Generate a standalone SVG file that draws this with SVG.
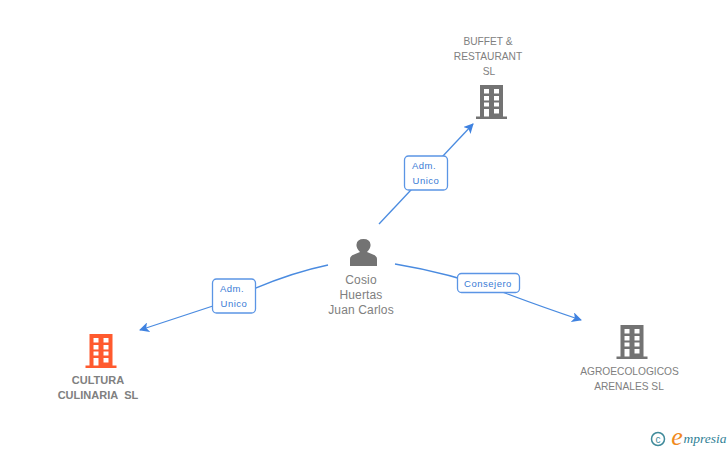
<svg xmlns="http://www.w3.org/2000/svg" width="728" height="450" viewBox="0 0 728 450">
<style>
text{font-family:"Liberation Sans",Arial,sans-serif;text-anchor:middle}
.n{font-size:10.2px;fill:#808080}
.b{font-size:11px;font-weight:bold;fill:#808080}
.p{font-size:12px;fill:#808080;letter-spacing:.15px}
.l{font-size:9.500px;fill:#3a7bd5;letter-spacing:.5px}
.c{fill:none;stroke:#4a8be0;stroke-width:1.3}
.box{fill:#fff;stroke:#5b95e5;stroke-width:1.3}
.gray{fill:#737373}
.org{fill:#ff5a2e}
</style>
<defs>
<path id="bld" fill-rule="evenodd" d="M4 0H27V31.500H31V34H0V31.500H4ZM8 4V8.500H13V4ZM18 4V8.500H23V4ZM8 11V15.500H13V11ZM18 11V15.500H23V11ZM8 17.500V21.500H13V17.500ZM18 17.500V21.500H23V17.500ZM8 24V31.500H13V24ZM18 24V28.500H23V24Z"/>
<marker id="arr" viewBox="0 0 10 10" refX="9" refY="5" markerWidth="10" markerHeight="10" markerUnits="userSpaceOnUse" orient="auto"><path d="M0 0L10 5L0 10L2.500 5Z" fill="#3f82e0"/></marker>
</defs>
<g id="connectors">
<path class="c" marker-end="url(#arr)" d="M379 224L473 124"/>
<path class="c" marker-end="url(#arr)" d="M328 265Q280 275 225 302L140 330"/>
<path class="c" marker-end="url(#arr)" d="M395 264Q450 273 505 293Q545 308 581 320"/>
</g>
<g id="label-adm-1"><rect class="box" x="404.500" y="156" width="43" height="34" rx="4"/><text class="l" x="424" y="169">Adm.</text><text class="l" x="426" y="184">Unico</text></g>
<g id="label-adm-2"><rect class="box" x="212.500" y="279" width="43" height="34" rx="4"/><text class="l" x="232" y="292">Adm.</text><text class="l" x="234" y="307">Unico</text></g>
<g id="label-consejero"><rect class="box" x="457.500" y="273.500" width="62" height="19" rx="4"/><text class="l" x="488" y="287">Consejero</text></g>
<g id="node-buffet"><use href="#bld" class="gray" x="476" y="85"/><text class="n" x="488" y="45">BUFFET &amp;</text><text class="n" x="488" y="60">RESTAURANT</text><text class="n" x="489" y="75">SL</text></g>
<g id="node-cosio"><path class="gray" d="M350 266V259Q350 256 354 254.500L360 252Q356 248 356.500 244.500Q357 239 363.500 239Q370 239 370.500 244.500Q371 248 367 252L373 254.500Q377 256 377 259V266Z"/><text class="p" x="361" y="284">Cosio</text><text class="p" x="361" y="299">Huertas</text><text class="p" x="361" y="314">Juan Carlos</text></g>
<g id="node-cultura"><use href="#bld" class="org" x="85.500" y="334"/><text class="b" x="98" y="384">CULTURA</text><text class="b" x="98" y="399">CULINARIA&#160; SL</text></g>
<g id="node-agro"><use href="#bld" class="gray" x="616.500" y="325"/><text class="n" x="629.500" y="375">AGROECOLOGICOS</text><text class="n" x="629" y="390">ARENALES SL</text></g>
<g id="watermark"><circle cx="658" cy="439" r="6.500" fill="none" stroke="#3f8a9a" stroke-width="1.500"/><text x="658" y="442.500" style="font-size:10px;fill:#3f8a9a">c</text><text x="677" y="445" style="font-family:'Liberation Serif',serif;font-style:italic;font-size:26px;fill:#f08a1d">e</text><text x="705" y="443" style="font-family:'Liberation Serif',serif;font-style:italic;font-size:13.500px;fill:#2f7f95">mpresia</text></g>
</svg>
